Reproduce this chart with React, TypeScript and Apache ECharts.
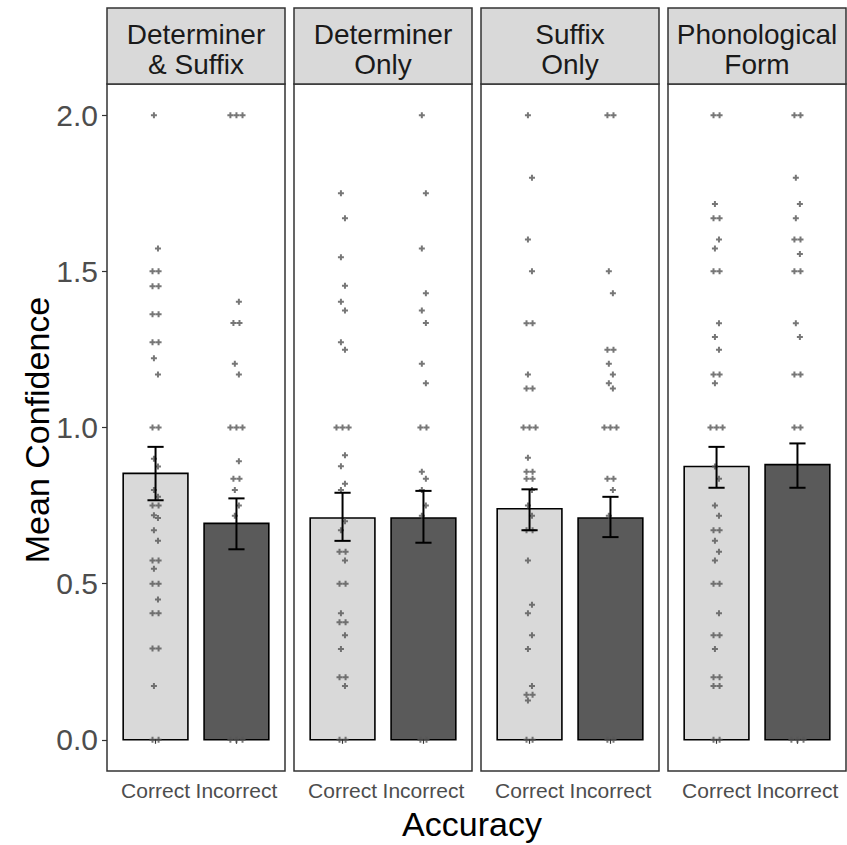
import React, { useEffect, useRef } from "react";
import * as echarts from "echarts";

// ---- data ----
const facets = ["Determiner\n& Suffix", "Determiner\nOnly", "Suffix\nOnly", "Phonological\nForm"];
const accuracy = ["Correct", "Incorrect"];
const yTicks = [0, 0.5, 1.0, 1.5, 2.0];

const meanCorrect = [0.853, 0.71, 0.74, 0.875];
const lowCorrect = [0.767, 0.637, 0.671, 0.807];
const highCorrect = [0.938, 0.791, 0.802, 0.938];
const meanIncorrect = [0.693, 0.71, 0.71, 0.881];
const lowIncorrect = [0.61, 0.631, 0.649, 0.807];
const highIncorrect = [0.773, 0.797, 0.778, 0.949];

const ptsDetSufCorrect = [2.0, 1.573, 1.5, 1.5, 1.452, 1.452, 1.363, 1.363, 1.273, 1.273, 1.222, 1.17, 1.0, 1.0, 0.9, 0.875, 0.8, 0.778, 0.75, 0.75, 0.719, 0.71, 0.671, 0.637, 0.574, 0.574, 0.548, 0.5, 0.5, 0.449, 0.405, 0.405, 0.292, 0.292, 0.172, 0, 0];
const ptsDetSufIncorrect = [2.0, 2.0, 2.0, 1.403, 1.335, 1.335, 1.204, 1.17, 1.0, 1.0, 1.0, 0.892, 0.836, 0.836, 0.8, 0.75, 0.717, 0, 0, 0];
const ptsDetOnlyCorrect = [1.75, 1.67, 1.545, 1.454, 1.403, 1.375, 1.273, 1.249, 1.0, 1.0, 1.0, 0.911, 0.876, 0.82, 0.8, 0.7, 0.671, 0.602, 0.602, 0.574, 0.5, 0.5, 0.405, 0.376, 0.376, 0.335, 0.291, 0.2, 0.2, 0.172, 0, 0];
const ptsDetOnlyIncorrect = [2.0, 1.75, 1.573, 1.43, 1.375, 1.335, 1.204, 1.142, 1.0, 1.0, 0.858, 0.836, 0.8, 0.75, 0.717, 0, 0];
const ptsSufOnlyCorrect = [2.0, 1.8, 1.602, 1.5, 1.334, 1.334, 1.17, 1.125, 1.125, 1.0, 1.0, 1.0, 0.903, 0.858, 0.858, 0.836, 0.836, 0.8, 0.75, 0.717, 0.671, 0.671, 0.574, 0.432, 0.405, 0.335, 0.291, 0.172, 0.144, 0.144, 0.126, 0, 0];
const ptsSufOnlyIncorrect = [2.0, 2.0, 1.5, 1.43, 1.249, 1.249, 1.204, 1.17, 1.142, 1.125, 1.0, 1.0, 1.0, 0.836, 0.836, 0.8, 0.717, 0, 0];
const ptsPhonCorrect = [2.0, 2.0, 1.716, 1.67, 1.67, 1.602, 1.573, 1.5, 1.5, 1.334, 1.29, 1.249, 1.17, 1.17, 1.142, 1.0, 1.0, 1.0, 0.875, 0.836, 0.75, 0.717, 0.671, 0.671, 0.637, 0.602, 0.574, 0.5, 0.5, 0.405, 0.335, 0.335, 0.291, 0.2, 0.2, 0.172, 0.172, 0, 0];
const ptsPhonIncorrect = [2.0, 2.0, 1.8, 1.716, 1.67, 1.602, 1.602, 1.556, 1.5, 1.5, 1.334, 1.29, 1.17, 1.17, 1.0, 1.0, 0, 0, 0];

const pointsCorrect = [ptsDetSufCorrect, ptsDetOnlyCorrect, ptsSufOnlyCorrect, ptsPhonCorrect];
const pointsIncorrect = [ptsDetSufIncorrect, ptsDetOnlyIncorrect, ptsSufOnlyIncorrect, ptsPhonIncorrect];

// ---- layout / style ----
const FONT = "Liberation Sans, Arial, sans-serif";
const panelLefts = [107, 294, 481, 668];
const panelWidth = 178;
const panelTop = 84;
const panelHeight = 687;
const stripTop = 8;
const barFills = ["#d9d9d9", "#5a5a5a"];
const PLUS = "path://M2,0H4V2H6V4H4V6H2V4H0V2H2Z";

function jitter(values: number[], center: number): number[][] {
  const seen: Record<string, number> = {};
  const total: Record<string, number> = {};
  values.forEach((v) => (total[v] = (total[v] || 0) + 1));
  return values.map((v, i) => {
    const k = seen[v] || 0;
    seen[v] = k + 1;
    const n = total[v];
    let off = (k - (n - 1) / 2) * 0.075;
    if (n === 1) off = i % 2 === 0 ? -0.02 : 0.03;
    return [center + off, v];
  });
}

export default function App() {
  const ref = useRef<HTMLDivElement>(null);
  useEffect(() => {
    if (!ref.current) return;
    const chart = echarts.init(ref.current, null, { renderer: "svg" });

    const grid: any[] = [];
    const xAxis: any[] = [];
    const yAxis: any[] = [];
    const series: any[] = [];
    const graphic: any[] = [];

    facets.forEach((f, i) => {
      grid.push({
        left: panelLefts[i],
        top: panelTop,
        width: panelWidth,
        height: panelHeight,
        show: true,
        borderColor: "#333333",
        borderWidth: 1.5,
        backgroundColor: "#ffffff",
      });
      xAxis.push({
        type: "value",
        gridIndex: i,
        min: 0.4,
        max: 2.6,
        axisLine: { show: false },
        splitLine: { show: false },
        axisTick: { show: true, customValues: [1, 2], length: 4, lineStyle: { color: "#333333", width: 1.2 } },
        axisLabel: {
          show: true,
          customValues: [1, 2],
          formatter: (v: number) => accuracy[Math.round(v) - 1] || "",
          fontSize: 21,
          color: "#4d4d4d",
          fontFamily: FONT,
          margin: 9,
        },
      });
      yAxis.push({
        type: "value",
        gridIndex: i,
        min: -0.1,
        max: 2.1,
        axisLine: { show: false },
        splitLine: { show: false },
        axisTick: {
          show: i === 0,
          customValues: yTicks,
          length: 5,
          lineStyle: { color: "#333333", width: 1.2 },
        },
        axisLabel: {
          show: i === 0,
          customValues: yTicks,
          formatter: (v: number) => v.toFixed(1),
          fontSize: 30,
          color: "#4d4d4d",
          fontFamily: FONT,
          margin: 9,
        },
      });

      // bars
      series.push({
        type: "custom",
        xAxisIndex: i,
        yAxisIndex: i,
        z: 1,
        data: [
          [1, meanCorrect[i], 0],
          [2, meanIncorrect[i], 1],
        ],
        renderItem: (params: any, api: any) => {
          const x = api.value(0);
          const y = api.value(1);
          const c = api.value(2);
          const p0 = api.coord([x - 0.4, y]);
          const p1 = api.coord([x + 0.4, 0]);
          return {
            type: "rect",
            shape: { x: p0[0], y: p0[1], width: p1[0] - p0[0], height: p1[1] - p0[1] },
            style: { fill: barFills[c], stroke: "#000000", lineWidth: 1.6 },
          };
        },
      });

      // points
      series.push({
        type: "scatter",
        xAxisIndex: i,
        yAxisIndex: i,
        z: 2,
        symbol: PLUS,
        symbolSize: 6,
        itemStyle: { color: "#555555", opacity: 0.8 },
        data: [...jitter(pointsCorrect[i], 1), ...jitter(pointsIncorrect[i], 2)],
      });

      // error bars
      series.push({
        type: "custom",
        xAxisIndex: i,
        yAxisIndex: i,
        z: 3,
        data: [
          [1, lowCorrect[i], highCorrect[i]],
          [2, lowIncorrect[i], highIncorrect[i]],
        ],
        renderItem: (params: any, api: any) => {
          const x = api.value(0);
          const lo = api.coord([x, api.value(1)]);
          const hi = api.coord([x, api.value(2)]);
          const l = api.coord([x - 0.1, 0])[0];
          const r = api.coord([x + 0.1, 0])[0];
          const st = { stroke: "#000000", lineWidth: 2 };
          return {
            type: "group",
            children: [
              { type: "line", shape: { x1: lo[0], y1: lo[1], x2: hi[0], y2: hi[1] }, style: st },
              { type: "line", shape: { x1: l, y1: lo[1], x2: r, y2: lo[1] }, style: st },
              { type: "line", shape: { x1: l, y1: hi[1], x2: r, y2: hi[1] }, style: st },
            ],
          };
        },
      });

      // strip
      graphic.push({
        type: "rect",
        shape: { x: panelLefts[i], y: stripTop, width: panelWidth, height: panelTop - stripTop },
        style: { fill: "#d9d9d9", stroke: "#333333", lineWidth: 1.5 },
      });
      graphic.push({
        type: "text",
        x: panelLefts[i] + panelWidth / 2,
        y: (stripTop + panelTop) / 2 + 3,
        style: {
          text: f,
          fontSize: 28,
          lineHeight: 30,
          fontFamily: FONT,
          fill: "#1a1a1a",
          align: "center",
          verticalAlign: "middle",
        },
      });
    });

    graphic.push({
      type: "text",
      x: 37,
      y: 430,
      rotation: Math.PI / 2,
      style: {
        text: "Mean Confidence",
        fontSize: 34,
        fontFamily: FONT,
        fill: "#000000",
        align: "center",
        verticalAlign: "middle",
      },
    });
    graphic.push({
      type: "text",
      x: 472,
      y: 824,
      style: {
        text: "Accuracy",
        fontSize: 34,
        fontFamily: FONT,
        fill: "#000000",
        align: "center",
        verticalAlign: "middle",
      },
    });

    chart.setOption({
      animation: false,
      backgroundColor: "#ffffff",
      grid,
      xAxis,
      yAxis,
      series,
      graphic,
    });
    return () => chart.dispose();
  }, []);

  return (
    <div
      ref={ref}
      style={{ position: "absolute", left: 0, top: 0, width: 847, height: 845 }}
    />
  );
}
